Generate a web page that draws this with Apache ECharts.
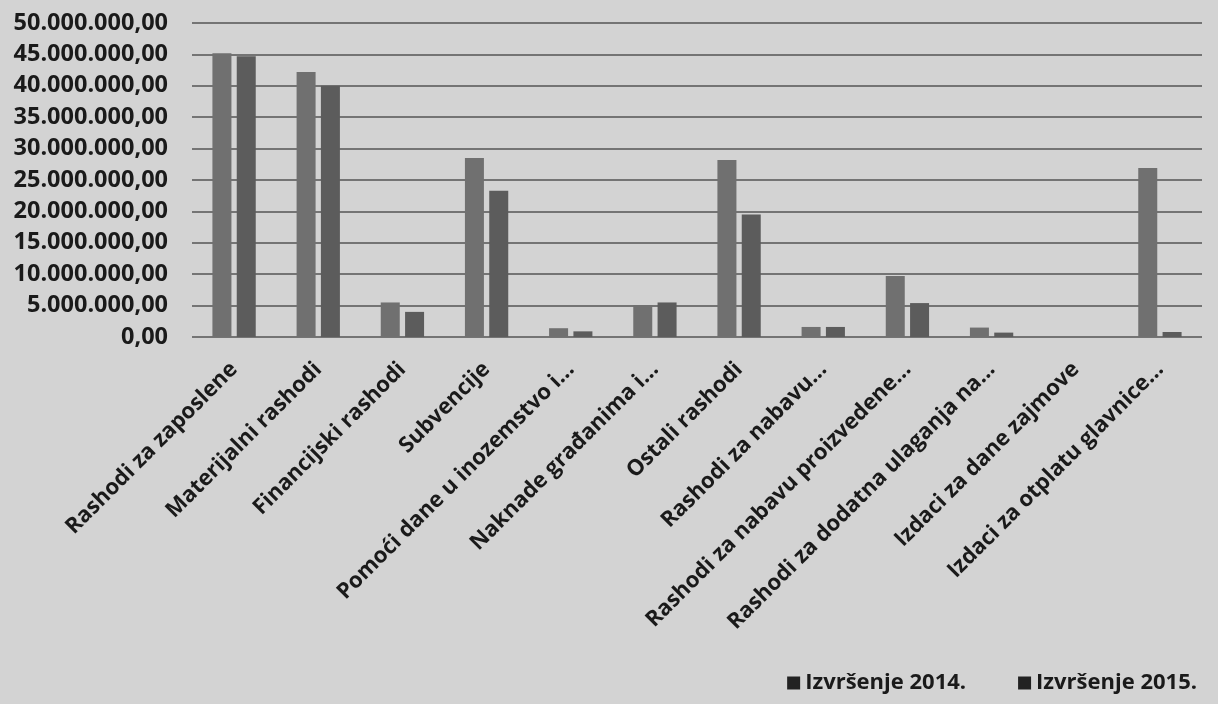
<!DOCTYPE html>
<html><head><meta charset="utf-8">
<script src="https://cdn.jsdelivr.net/npm/echarts@6/dist/echarts.min.js"></script>
<style>html,body{margin:0;padding:0;background:#d3d3d3;}#c{width:1218px;height:704px;}</style>
</head><body><div id="c"></div>
<script>
const categories = ["Rashodi za zaposlene","Materijalni rashodi","Financijski rashodi","Subvencije","Pomoći dane u inozemstvo i...","Naknade građanima i...","Ostali rashodi","Rashodi za nabavu...","Rashodi za nabavu proizvedene...","Rashodi za dodatna ulaganja na...","Izdaci za dane zajmove","Izdaci za otplatu glavnice..."];
const izvrsenje2014 = [45200000,42200000,5500000,28500000,1400000,5100000,28200000,1600000,9700000,1500000,0,26900000];
const izvrsenje2015 = [44700000,40000000,4000000,23300000,900000,5500000,19500000,1600000,5400000,700000,0,800000];
const seriesNames = ["Izvršenje 2014.","Izvršenje 2015."];

function fmt(v){
  const s = Math.round(v).toString().replace(/\B(?=(\d{3})+(?!\d))/g,'.');
  return s + ',00';
}
const chart = echarts.init(document.getElementById('c'));
const font = 'Open Sans';
chart.setOption({
  backgroundColor:'#d3d3d3',
  animation:false,
  grid:{left:192,right:16,top:23,bottom:367,containLabel:false},
  legend:{
    right:16,bottom:5,itemWidth:13,itemHeight:13,itemGap:52,icon:'rect',
    textStyle:{fontFamily:font,fontWeight:'bold',fontSize:22,color:'#1a1a1a'},
    data:[{name:seriesNames[0],itemStyle:{color:'#222'}},{name:seriesNames[1],itemStyle:{color:'#222'}}]
  },
  xAxis:{
    type:'category',data:categories,
    axisLine:{show:false},axisTick:{show:false},
    axisLabel:{rotate:45,interval:0,margin:29,fontFamily:font,fontWeight:'bold',fontSize:22,color:'#1a1a1a'}
  },
  yAxis:{
    type:'value',min:0,max:50000000,interval:5000000,
    axisLine:{show:false},axisTick:{show:false},
    splitLine:{lineStyle:{color:'#555',width:1.5}},
    axisLabel:{formatter:fmt,margin:24,fontFamily:font,fontWeight:'bold',fontSize:23.5,color:'#1a1a1a'}
  },
  series:[
    {name:seriesNames[0],type:'bar',data:izvrsenje2014,barWidth:19,barGap:'28%',itemStyle:{color:'#707070'}},
    {name:seriesNames[1],type:'bar',data:izvrsenje2015,barWidth:19,itemStyle:{color:'#5c5c5c'}}
  ]
});
</script></body></html>
